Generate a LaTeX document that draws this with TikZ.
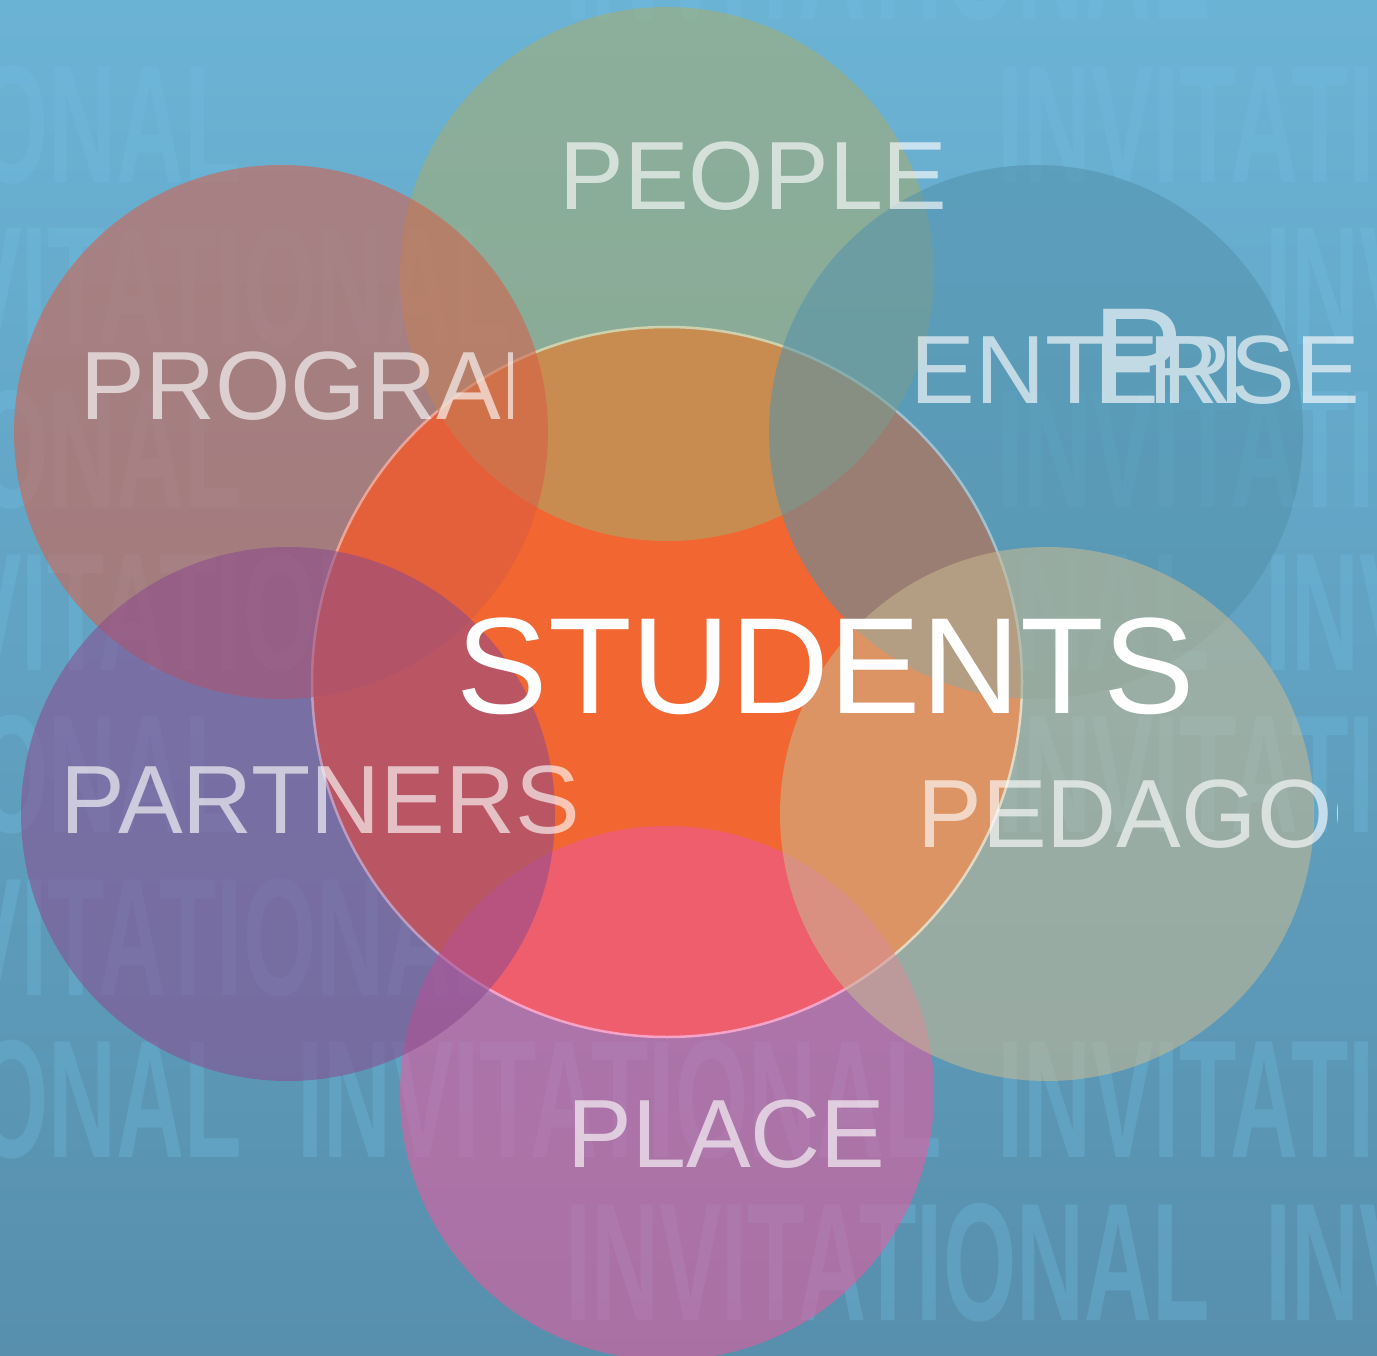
\documentclass[tikz,border=0pt]{standalone}
\usepackage{graphicx}
\usepackage{fontspec}
\setmainfont{Liberation Sans}
\definecolor{bgtop}{RGB}{107,179,213}
\definecolor{bgbot}{RGB}{87,143,173}
\definecolor{bgtext}{RGB}{114,192,228}
\definecolor{cstud}{RGB}{242,102,49}
\definecolor{cpeople}{RGB}{167,173,109}
\definecolor{cprog}{RGB}{218,92,69}
\definecolor{centr}{RGB}{82,145,171}
\definecolor{cpart}{RGB}{140,73,142}
\definecolor{cped}{RGB}{202,186,145}
\definecolor{cplace}{RGB}{238,88,157}
\tikzset{
  lbl/.style={anchor=base west, inner sep=0pt, outer sep=0pt, text=white, text opacity=0.63, font=\fontsize{97}{97}\selectfont},
  lblsolid/.style={anchor=base west, inner sep=0pt, outer sep=0pt, text=white, font=\fontsize{97}{97}\selectfont},
  bigword/.style={anchor=base west, inner sep=0pt, outer sep=0pt, text=white, font=\fontsize{137}{137}\selectfont},
  bgword/.style={anchor=base west, inner sep=0pt, outer sep=0pt, text=bgtext, text opacity=0.3, font=\bfseries\fontsize{168}{168}\selectfont},
  ring/.style={fill opacity=0.55},
}
\newcommand{\bgw}{\scalebox{0.56}[1]{INVITATIONAL}}
\begin{document}
\begin{tikzpicture}[x=1pt, y=-1pt]
\useasboundingbox (0,0) rectangle (1377,1356);
\begin{scope}
\clip (0,0) rectangle (1377,1356);
% background
\shade[top color=bgtop, bottom color=bgbot] (0,0) rectangle (1377,1356);
% background words
\foreach \c/\b [count=\n] in {571/20, -397/182.5, 1003/182.5, -129/345, 1271/345,
    -397/507.5, 1003/507.5, -129/670, 571/670, 1271/670, -397/832.5, 1003/832.5,
    -129/995, -397/1157.5, 303/1157.5, 1003/1157.5, 571/1320, 1271/1320} {
  \node[bgword] (bg\n) at (\c-6, \b) {\bgw};
}
% central circle
\draw[white, line width=2.5pt, fill=cstud] (667,682) circle[radius=355pt];
% outer circles
\fill[cpeople, ring] (667,274) circle[radius=267pt];
\fill[cplace, ring] (667,1093) circle[radius=267pt];
\fill[cprog, ring] (281,432) circle[radius=267pt];
\fill[centr, ring] (1036,432) circle[radius=267pt];
\fill[cpart, ring] (288,814) circle[radius=267pt];
\fill[cped, ring] (1047,814) circle[radius=267pt];
% labels
\node[lbl] (people) at (559.5,210) {PEOPLE};
\begin{scope}
  \clip (0,0) rectangle (512,1356);
  \node[lbl] (program) at (80.5,419) {PROGRAM};
\end{scope}
\begin{scope}[transparency group, opacity=0.63]
  \node[lblsolid] (ent1) at (910.5,403) {ENT};
  \node[lblsolid] (ent2) at (1094.5,403) {E};
  \node[lblsolid] (ent3) at (1148.5,403) {R};
  \node[lblsolid] (ent4) at (1162.5,403) {R};
  \node[lblsolid] (ent5) at (1218,403) {I};
  \node[lblsolid, anchor=base east] (ent6) at (1360,403) {SE};
  \node[lblsolid, font=\fontsize{137}{137}\selectfont] (entp) at (1092.5,403) {P};
\end{scope}
\node[lbl] (partners) at (60.5,833) {PARTNERS};
\begin{scope}
  \clip (0,0) rectangle (1337,1356);
  \node[lbl] (pedagogy) at (917.5,847) {PEDAGOGY};
\end{scope}
\node[lbl] (place) at (567.5,1167) {PLACE};
\node[bigword] (students) at (456.8,713) {STUDENTS};
\end{scope}
\end{tikzpicture}
\end{document}
